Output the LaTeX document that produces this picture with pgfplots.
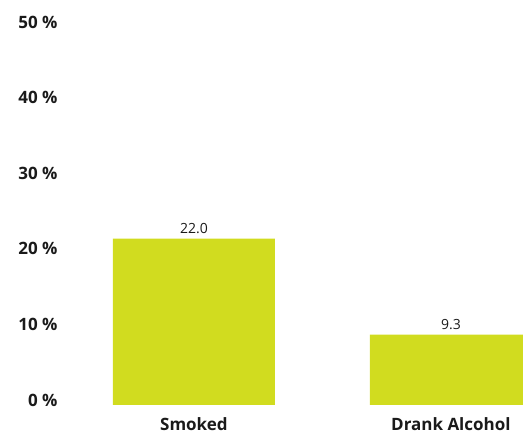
\documentclass[border=0pt]{standalone}
\usepackage{fontspec}
\setmainfont{Open Sans}
\usepackage{pgfplots}
\pgfplotsset{compat=1.18}
\definecolor{barc}{HTML}{D1DC1F}
\definecolor{txt}{HTML}{1A1A1A}
\begin{document}
\begin{tikzpicture}
\begin{axis}[
  scale only axis,
  width=410bp, height=378bp,
  xmin=-0.315, xmax=1.2802,
  ymin=0, ymax=50,
  axis line style={draw=none},
  major tick length=0pt,
  xtick={0,1},
  xticklabels={Smoked, Drank Alcohol},
  ytick={0,10,20,30,40,50},
  /pgf/number format/assume math mode=true,
  yticklabel={\pgfmathprintnumber{\tick} \%},
  yticklabel style={anchor=east, xshift=-52bp, yshift=5bp, text=txt},
  xticklabel style={text=txt, yshift=-9bp},
  ticklabel style={font=\bfseries\fontsize{17bp}{19bp}\selectfont},
  ybar, bar width=162bp,
  clip=true,
  nodes near coords,
  point meta=explicit symbolic,
  nodes near coords style={font=\fontsize{14bp}{16bp}\selectfont, text=txt, yshift=1bp},
]
\addplot[fill=barc, draw=none] coordinates {(0,22.0) [22.0] (1,9.3) [9.3]};
\end{axis}
\path[use as bounding box] ([xshift=-113bp,yshift=-31bp]current axis.south west) rectangle ([yshift=27bp]current axis.north east);
\end{tikzpicture}
\end{document}
